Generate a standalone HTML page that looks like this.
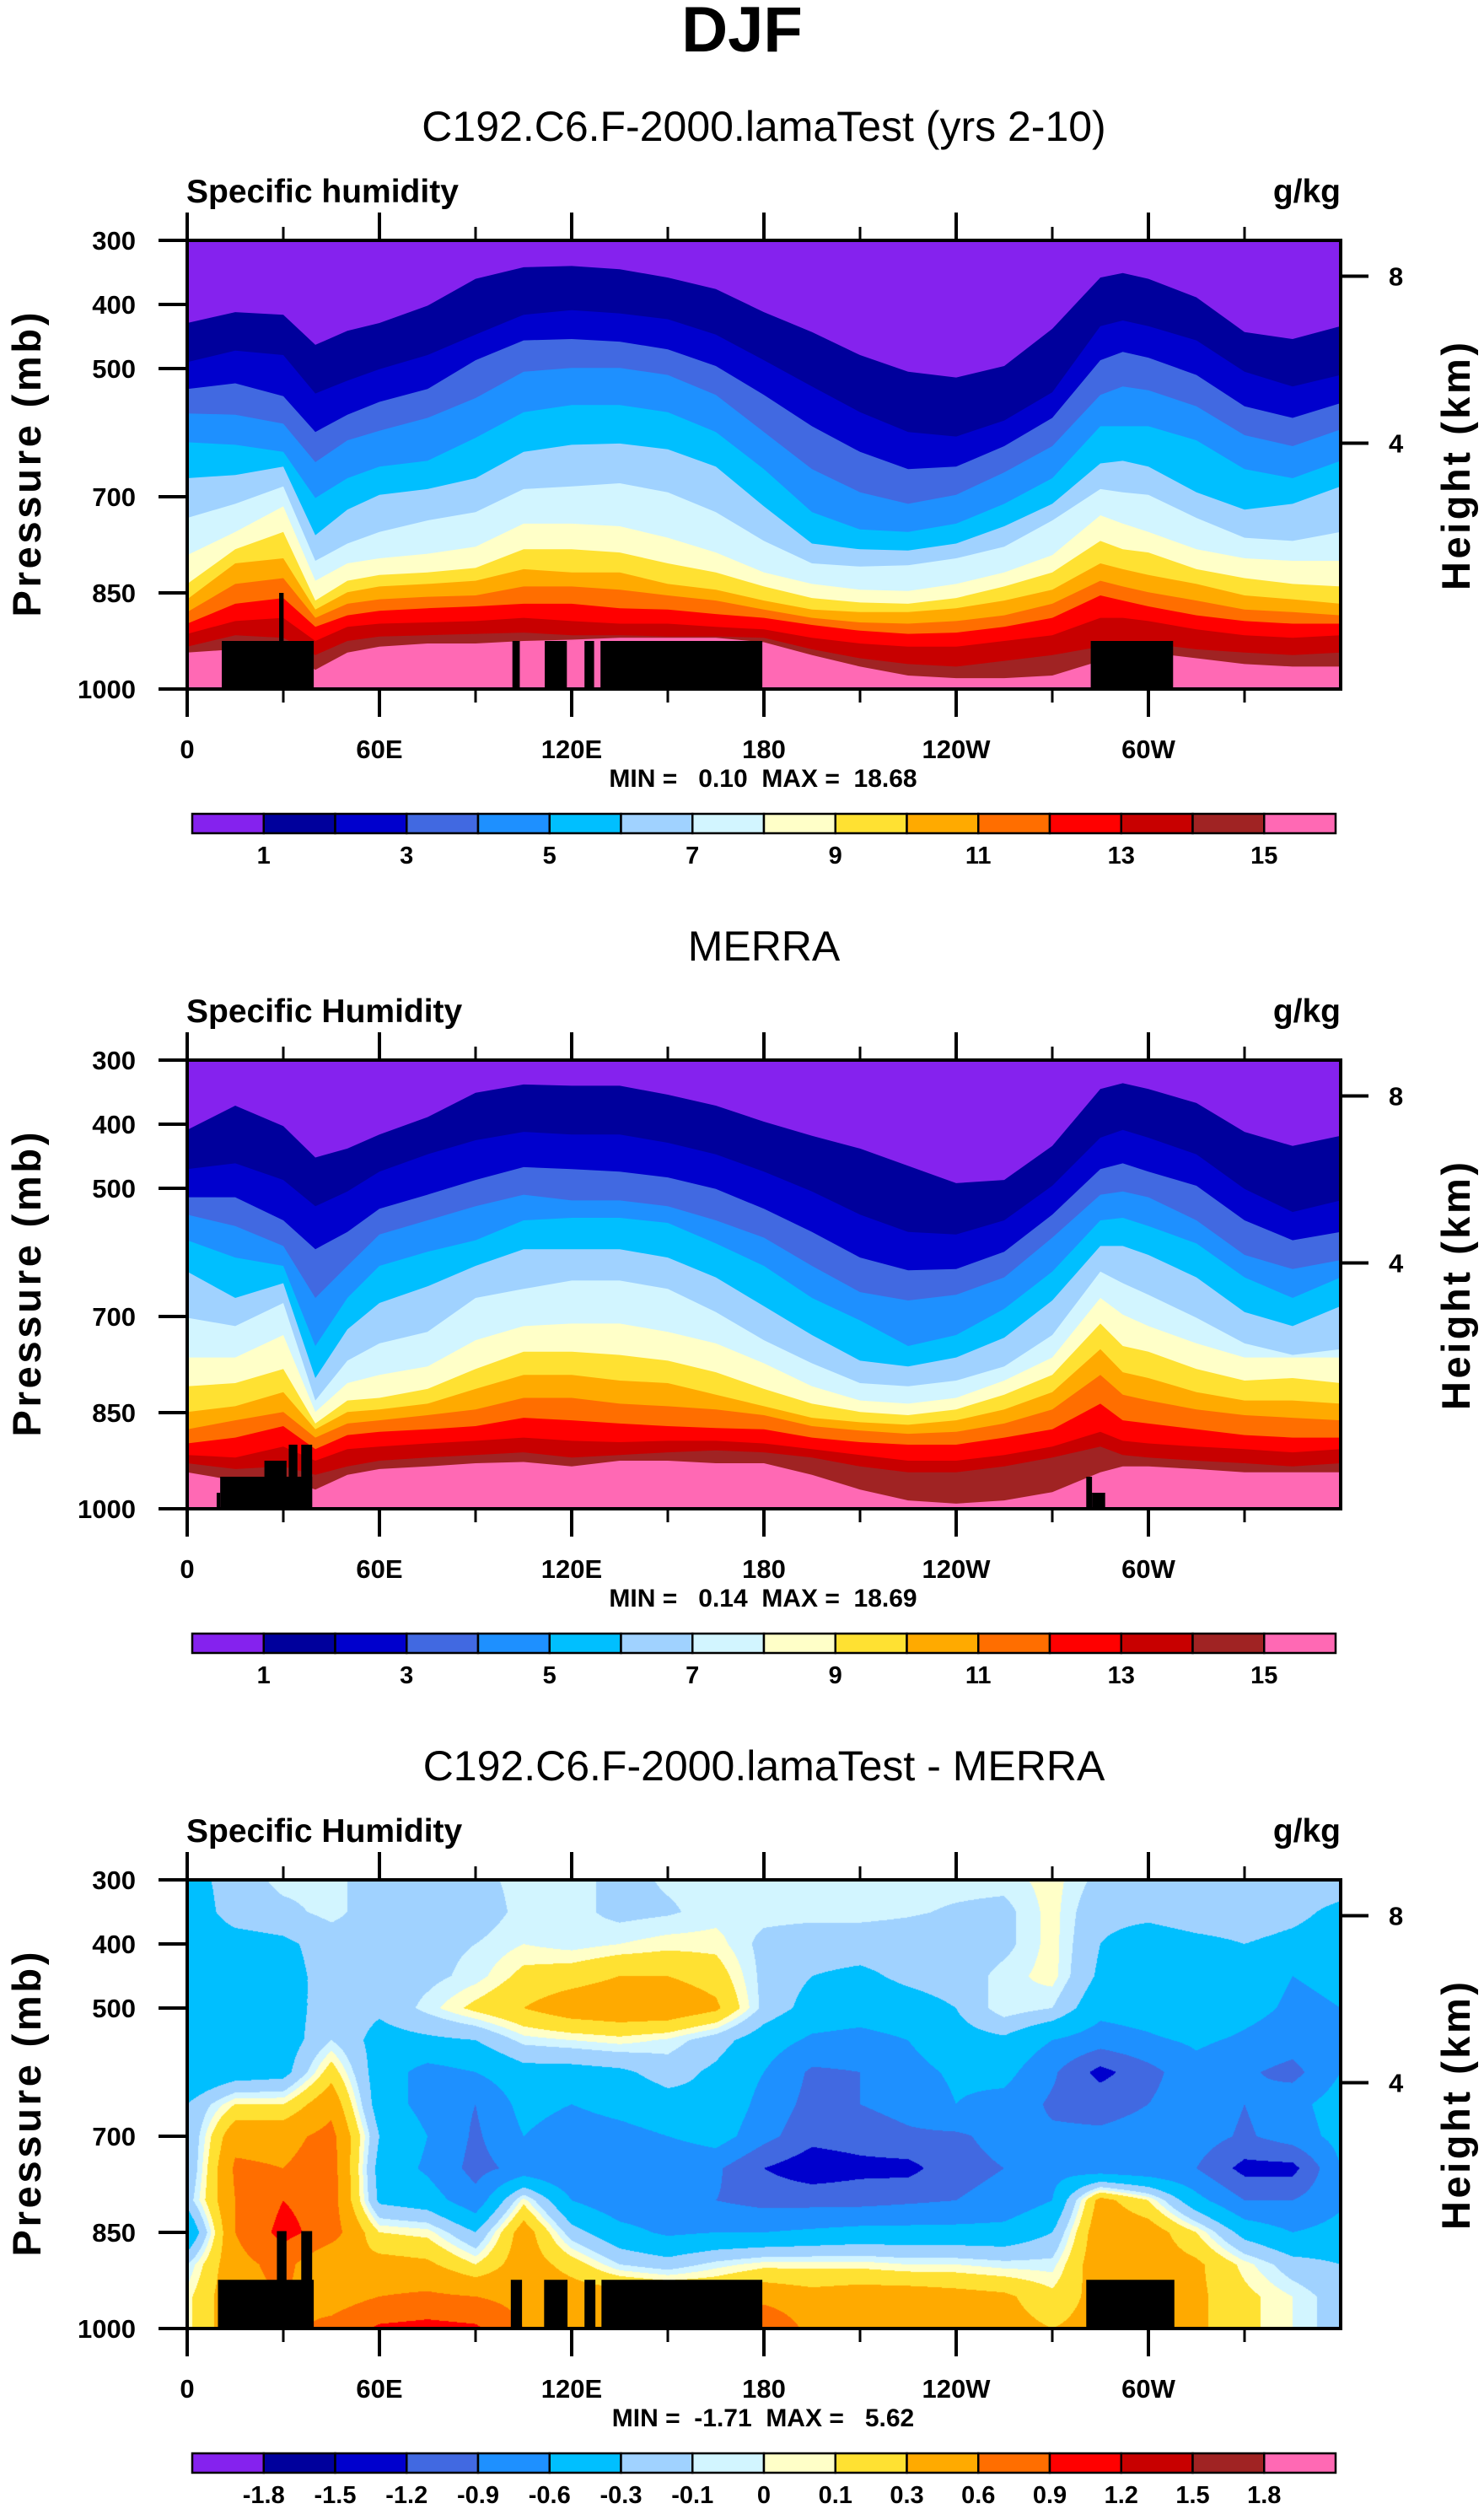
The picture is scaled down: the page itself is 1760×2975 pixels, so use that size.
<!DOCTYPE html>
<html><head><meta charset="utf-8">
<style>
body{margin:0;width:1760px;height:2975px;background:#fff;position:relative;overflow:hidden;font-family:"Liberation Sans",Arial,sans-serif}
canvas{position:absolute}
svg{position:absolute;left:0;top:0}
</style></head>
<body>
<canvas id="diffCanvas" width="1368" height="532" style="left:222px;top:2229px"></canvas>
<svg id="chart" width="1760" height="2975" xmlns="http://www.w3.org/2000/svg"></svg>
<script>
// ---------- data ----------
const lons = [0,15,30,40,50,60,75,90,105,120,135,150,165,180,195,210,225,240,255,270,285,292,300,315,330,345,360];
// model (panel 1): pressure (mb) where q crosses levels 1..15 g/kg
const model_l1 = [429,412,416,463,441,429,402,360,342,340,345,358,376,412,443,479,505,514,496,438,358,351,360,389,443,454,434];
const model_l2 = [490,472,479,539,519,501,479,447,416,409,414,423,447,487,528,568,599,606,581,537,434,425,434,456,505,528,510];
const model_l3 = [532,523,543,599,572,552,532,487,456,454,458,470,496,541,590,630,657,653,621,577,487,474,483,510,559,577,554];
const model_l4 = [570,572,586,646,612,597,577,546,505,499,499,510,541,599,657,693,711,697,662,621,541,528,534,559,604,621,595];
const model_l5 = [615,619,630,702,671,653,644,608,568,557,557,568,599,657,724,751,755,742,711,671,590,590,590,612,657,671,644];
const model_l6 = [671,666,653,760,720,697,688,671,630,619,617,626,653,715,773,782,784,773,746,711,648,644,653,693,720,711,684];
const model_l7 = [733,711,684,800,773,755,737,724,688,684,679,693,724,769,804,809,807,796,778,737,688,693,697,733,764,769,755];
const model_l8 = [791,755,715,831,804,796,789,778,742,742,746,764,787,818,836,845,847,836,818,791,729,742,755,782,796,800,800];
const model_l9 = [836,782,755,862,831,822,818,811,782,782,787,804,818,840,858,865,867,858,840,818,769,782,787,813,827,836,840];
const model_l10 = [860,804,796,876,849,840,836,831,813,818,818,836,845,862,876,880,880,874,862,845,804,813,822,836,854,860,867];
const model_l11 = [880,836,827,889,867,860,856,854,840,840,845,854,862,876,889,896,898,894,885,867,831,840,849,862,876,880,885];
const model_l12 = [898,867,858,903,885,878,874,871,867,867,874,876,883,889,900,909,914,912,903,889,854,862,871,885,894,898,898];
const model_l13 = [914,894,889,925,903,898,896,894,889,894,898,898,903,907,920,929,934,934,925,916,889,889,894,907,916,920,916];
const model_l14 = [934,916,920,947,925,918,916,914,912,916,916,918,918,920,938,952,961,965,956,947,934,925,929,938,943,947,943];
const model_l15 = [943,938,938,970,943,934,929,929,925,923,920,920,920,927,947,965,979,983,983,979,956,938,943,952,961,965,965];
// MERRA (panel 2)
const merra_l1 = [409,371,403,452,438,416,389,351,338,340,340,354,371,396,418,438,465,492,487,434,345,336,345,367,412,434,418];
const merra_l2 = [470,461,487,528,505,474,447,425,412,416,416,429,447,474,505,541,568,572,550,496,421,409,421,447,501,537,519];
const merra_l3 = [514,514,550,595,568,532,510,487,467,470,474,483,501,532,568,608,628,626,599,541,470,461,474,496,550,581,568];
const merra_l4 = [541,559,590,671,621,572,550,528,510,519,519,528,550,577,621,662,675,666,639,577,510,505,514,550,604,626,612];
const merra_l5 = [581,608,621,746,671,621,599,581,550,546,546,554,586,621,671,706,746,729,688,630,550,546,559,586,639,671,639];
const merra_l6 = [630,671,648,796,720,679,653,621,595,595,595,608,639,684,729,769,778,764,733,675,590,590,604,639,693,715,684];
const merra_l7 = [702,715,679,831,769,742,724,671,657,644,644,657,693,737,773,804,809,800,778,729,630,648,666,702,742,760,751];
const merra_l8 = [764,764,729,849,804,791,778,737,715,711,711,724,742,773,809,831,836,827,800,764,671,697,715,742,764,764,764];
const merra_l9 = [809,804,782,867,831,827,813,782,755,755,760,769,787,813,836,849,854,845,822,791,711,746,755,782,800,796,804];
const merra_l10 = [849,840,818,876,849,845,836,813,791,791,800,804,822,840,858,865,869,862,845,818,751,787,796,818,831,831,836];
const merra_l11 = [876,862,849,889,867,862,854,845,827,827,836,840,845,854,871,878,883,880,867,845,791,822,831,845,854,858,862];
const merra_l12 = [898,889,871,907,885,880,876,871,858,862,867,871,874,876,889,896,900,900,889,876,836,862,867,876,885,889,889];
const merra_l13 = [916,920,903,925,907,903,898,894,889,894,896,894,894,898,907,916,925,925,916,903,880,894,898,903,907,912,907];
const merra_l14 = [929,938,934,947,934,925,920,916,912,920,916,912,909,912,920,934,943,943,934,920,903,916,920,925,929,934,929];
const merra_l15 = [943,956,952,970,947,938,934,929,927,934,925,925,929,929,947,970,987,992,987,974,943,934,934,938,943,943,943];
// difference grid (panel 3): rows = pressure levels, cols = diffLons
const diffLons = [0,15,30,45,60,75,90,105,120,135,150,165,180,195,210,225,240,255,270,285,300,315,330,345,360];
const diffPres = [300,350,400,450,500,550,600,650,700,750,800,850,900,950,1000];
const d300 = [-0.4,-0.2,-0.05,-0.05,-0.2,-0.2,-0.15,-0.05,-0.05,-0.15,-0.08,-0.05,-0.05,-0.05,-0.05,-0.05,-0.05,-0.05,0.05,-0.15,-0.2,-0.2,-0.15,-0.2,-0.2];
const d350 = [-0.45,-0.2,-0.15,-0.05,-0.2,-0.2,-0.2,-0.05,-0.05,-0.15,-0.12,-0.05,-0.05,-0.05,-0.05,-0.08,-0.12,-0.15,0.05,-0.25,-0.25,-0.2,-0.2,-0.25,-0.35];
const d400 = [-0.45,-0.4,-0.35,-0.2,-0.2,-0.15,-0.1,0.0,-0.05,0.0,0.05,0.05,-0.15,-0.2,-0.2,-0.2,-0.2,-0.15,0.05,-0.3,-0.4,-0.35,-0.3,-0.35,-0.4];
const d450 = [-0.45,-0.45,-0.4,-0.2,-0.2,-0.15,-0.05,0.15,0.2,0.3,0.3,0.2,-0.15,-0.3,-0.35,-0.25,-0.2,-0.05,0.05,-0.35,-0.45,-0.4,-0.45,-0.6,-0.55];
const d500 = [-0.45,-0.4,-0.45,-0.15,-0.25,-0.05,0.15,0.3,0.45,0.5,0.5,0.35,-0.15,-0.4,-0.45,-0.4,-0.3,0.0,-0.1,-0.5,-0.45,-0.3,-0.5,-0.65,-0.6];
const d550 = [-0.45,-0.5,-0.45,-0.1,-0.4,-0.35,-0.3,-0.05,0.0,0.05,-0.02,-0.2,-0.45,-0.65,-0.7,-0.6,-0.4,-0.35,-0.6,-0.75,-0.65,-0.55,-0.65,-0.75,-0.6];
const d600 = [-0.6,-0.45,-0.4,0.2,-0.45,-0.7,-0.6,-0.4,-0.4,-0.35,-0.2,-0.35,-0.6,-0.95,-0.9,-0.7,-0.55,-0.5,-0.85,-1.3,-1.0,-0.7,-0.85,-1.0,-0.6];
const d650 = [-0.3,0.1,0.1,0.5,-0.45,-0.7,-0.9,-0.5,-0.6,-0.5,-0.4,-0.35,-0.7,-1.0,-0.9,-0.8,-0.6,-0.7,-0.95,-1.0,-0.9,-0.7,-0.9,-0.7,-0.45];
const d700 = [-0.3,0.5,0.5,0.7,-0.3,-0.6,-0.95,-0.6,-0.75,-0.7,-0.6,-0.45,-0.8,-1.1,-1.05,-0.95,-0.95,-0.8,-0.85,-0.85,-0.8,-0.75,-0.95,-0.75,-0.5];
const d750 = [-0.3,0.65,0.6,0.75,-0.4,-0.65,-1.0,-0.8,-0.9,-0.8,-0.9,-0.85,-1.2,-1.4,-1.3,-1.3,-1.0,-0.9,-0.7,-0.8,-0.85,-0.9,-1.3,-1.3,-0.6];
const d800 = [-0.2,0.6,0.9,0.75,-0.35,-0.45,-0.8,0.05,-0.6,-0.8,-0.8,-0.9,-1.0,-1.0,-1.0,-0.95,-0.9,-0.8,-0.6,0.4,0.1,-0.5,-0.9,-0.9,-0.65];
const d850 = [-0.6,0.6,1.0,0.75,0.1,0.05,-0.3,0.45,-0.2,-0.5,-0.65,-0.6,-0.6,-0.55,-0.5,-0.5,-0.5,-0.5,-0.3,0.5,0.45,0.1,-0.4,-0.6,-0.5];
const d900 = [-0.1,0.5,0.7,0.3,0.4,0.35,0.1,0.45,0.2,-0.1,-0.2,-0.05,0.05,0.05,0.05,0.0,0.0,-0.05,-0.05,0.5,0.45,0.35,0.05,-0.2,-0.3];
const d950 = [0.05,0.5,0.6,0.45,0.6,0.65,0.6,0.5,0.45,0.45,0.4,0.35,0.5,0.4,0.45,0.45,0.4,0.35,0.15,0.4,0.4,0.35,0.15,0.0,-0.2];
const d1000 = [0.05,0.5,0.5,0.7,0.95,1.0,0.95,0.6,0.6,0.6,0.6,0.6,0.9,0.5,0.45,0.45,0.45,0.4,0.3,0.4,0.45,0.35,0.15,0.0,-0.2];
// topography masks (black): start lon, end lon, top pressure
const topo1Start = [10.8,28.7,101.5,111.6,124,129,282];
const topo1End = [39.5,30.1,103.8,118.5,127,179.5,307.7];
const topo1Top = [925,850,925,925,925,925,925];
const topo2Start = [9.2,10.3,24.1,31.7,35.6,280.6,282.4];
const topo2End = [10.3,39,31,34.4,39,282.4,286.5];
const topo2Top = [975,950,925,900,900,950,975];
const topo3Start = [9.6,28,35.6,101,111.4,124,129.3,280.6];
const topo3End = [39.5,31,39,104.5,118.7,127.4,179.5,308.1];
const topo3Top = [924,848,848,924,924,924,924,924];
// axis ticks / labels
const presTicks = [300,400,500,700,850,1000];
const lonMajor = [0,60,120,180,240,300];
const lonMajorLabels = ['0','60E','120E','180','120W','60W'];
const lonMinor = [30,90,150,210,270,330];
const heightTicks = [8,4];
const qLevelLabels = ['1','3','5','7','9','11','13','15'];
const qLevelIdx = [1,3,5,7,9,11,13,15];
const diffLevels = [-1.8,-1.5,-1.2,-0.9,-0.6,-0.3,-0.1,0,0.1,0.3,0.6,0.9,1.2,1.5,1.8];
const diffLevelLabels = ['-1.8','-1.5','-1.2','-0.9','-0.6','-0.3','-0.1','0','0.1','0.3','0.6','0.9','1.2','1.5','1.8'];
const minMax1 = ['0.10','18.68'];
const minMax2 = ['0.14','18.69'];
const minMax3 = ['-1.71','5.62'];

const colors = ['#8522ee','#00009c','#0000cd','#4169e1','#1e90ff','#00bfff','#a0d2ff','#d2f5ff','#ffffc8','#ffe132','#ffaa00','#ff6e00','#ff0000','#c80000','#a02323','#ff69b4'];

// ---------- drawing ----------
const NS = 'http://www.w3.org/2000/svg';
const svg = document.getElementById('chart');
const X0 = 222, X1 = 1590, PH = 532;
function xs(lon){ return X0 + lon/360*(X1-X0); }
function ys(p, off){ return 285 + off + (p-300)/700*PH; }
function mk(tag, parent){ const e = document.createElementNS(NS, tag); parent.appendChild(e); return e; }
function txt(parent, s, x, y, size, weight, anchor){
  const t = mk('text', parent);
  t.setAttribute('x', x); t.setAttribute('y', y);
  t.setAttribute('font-size', size);
  t.setAttribute('font-weight', weight);
  t.setAttribute('text-anchor', anchor);
  t.setAttribute('font-family', '"Liberation Sans", Arial, sans-serif');
  t.style.whiteSpace = 'pre';
  t.textContent = s;
  return t;
}
function line(parent, x1, y1, x2, y2, w){
  const l = mk('line', parent);
  l.setAttribute('x1', x1); l.setAttribute('y1', y1); l.setAttribute('x2', x2); l.setAttribute('y2', y2);
  l.setAttribute('stroke', '#000'); l.setAttribute('stroke-width', w);
  return l;
}
function heightToP(km){ return 1013.25*Math.pow(1-2.25577e-5*km*1000, 5.25588); }

const title = txt(svg, 'DJF', 880, 61, 76, 'bold', 'middle');



function drawTopo(g, off, starts, ends, tops){
  for (let i=0;i<starts.length;i++){
    const r = mk('rect', g);
    
    
    r.setAttribute('x', xs(starts[i])); r.setAttribute('width', xs(ends[i])-xs(starts[i]));
    r.setAttribute('y', ys(tops[i], off)); r.setAttribute('height', ys(1000, off)-ys(tops[i], off));
    r.setAttribute('fill', '#000');
  }
}

function drawAxes(g, off, cfg){
  const bot = ys(1000, off), top = ys(300, off);
  const sub = txt(g, cfg.subtitle, 906, 167+off, 50, 'normal', 'middle');
  
  
  const lt = txt(g, cfg.left, 221, 240+off, 39, 'bold', 'start');
  
  
  const un = txt(g, 'g/kg', 1590, 240+off, 39, 'bold', 'end');
  
  
  const frame = mk('rect', g);
  
  
  frame.setAttribute('x', X0); frame.setAttribute('y', top); frame.setAttribute('width', X1-X0); frame.setAttribute('height', PH);
  frame.setAttribute('fill', 'none'); frame.setAttribute('stroke', '#000'); frame.setAttribute('stroke-width', 4);
  presTicks.forEach(p => {
    const tk = line(g, 188, ys(p, off), X0, ys(p, off), 4);
    
    
    const lb = txt(g, String(p), 161, ys(p, off)+11, 31, 'bold', 'end');
    
    
  });
  lonMajor.forEach((lon, i) => {
    const a = line(g, xs(lon), top-33, xs(lon), top, 4);
    
    
    const b = line(g, xs(lon), bot, xs(lon), bot+33, 4);
    
    
    const lb = txt(g, lonMajorLabels[i], xs(lon), 899+off, 31, 'bold', 'middle');
    
    
  });
  lonMinor.forEach(lon => {
    const a = line(g, xs(lon), top-16, xs(lon), top, 3);
    
    
    const b = line(g, xs(lon), bot, xs(lon), bot+16, 3);
    
    
  });
  heightTicks.forEach(km => {
    const y = ys(heightToP(km), off);
    const t = line(g, X1, y, X1+33, y, 4);
    
    
    const lb = txt(g, String(km), 1647, y+11, 31, 'bold', 'start');
    
    
  });
  const yt = txt(g, 'Pressure (mb)', 0, 0, 47, 'bold', 'middle');
  yt.setAttribute('transform', 'translate(48,' + (551+off) + ') rotate(-90)');
  yt.setAttribute('textLength', 361);
  
  
  const rt = txt(g, 'Height (km)', 0, 0, 47, 'bold', 'middle');
  rt.setAttribute('transform', 'translate(1743,' + (553+off) + ') rotate(-90)');
  rt.setAttribute('textLength', 294);
  
  
  const mm = txt(g, 'MIN = ' + cfg.mm[0].padStart(6) + '  MAX = ' + cfg.mm[1].padStart(6), 905, 933+off, 30, 'bold', 'middle');
  
  
  // colorbar
  const cb = mk('g', g);
  
  
  const cx0 = 228, cx1 = 1584, bw = (cx1-cx0)/16, cy = 965+off;
  colors.forEach((c, i) => {
    const r = mk('rect', cb);
    
    
    r.setAttribute('x', cx0+i*bw); r.setAttribute('y', cy); r.setAttribute('width', bw); r.setAttribute('height', 23);
    r.setAttribute('fill', c); r.setAttribute('stroke', '#000'); r.setAttribute('stroke-width', 2.5);
  });
  cfg.cbLabels.forEach((s, i) => {
    const lb = txt(cb, s, cx0 + cfg.cbIdx[i]*bw, 1024+off, 29, 'bold', 'middle');
    
    
  });
}

function drawContourPanel(off, levelCurves, cfg, topo){
  const g = mk('g', svg);
  
  
  const bg = mk('rect', g);
  
  
  bg.setAttribute('x', X0); bg.setAttribute('y', ys(300, off)); bg.setAttribute('width', X1-X0); bg.setAttribute('height', PH);
  bg.setAttribute('fill', colors[0]);
  levelCurves.forEach((curve, k) => {
    let pts = curve.map((p, i) => xs(lons[i]).toFixed(1) + ',' + ys(Math.min(p,1000), off).toFixed(1));
    pts.push(X1 + ',' + ys(1000, off), X0 + ',' + ys(1000, off));
    const poly = mk('polygon', g);
    
    
    poly.setAttribute('points', pts.join(' '));
    poly.setAttribute('fill', colors[k+1]);
  });
  drawTopo(g, off, topo[0], topo[1], topo[2]);
  drawAxes(g, off, cfg);
}

drawContourPanel(0,
  [model_l1,model_l2,model_l3,model_l4,model_l5,model_l6,model_l7,model_l8,model_l9,model_l10,model_l11,model_l12,model_l13,model_l14,model_l15],
  {name:'model-panel', subtitle:'C192.C6.F-2000.lamaTest (yrs 2-10)', left:'Specific humidity', mm:minMax1, cbLabels:qLevelLabels, cbIdx:qLevelIdx},
  [topo1Start, topo1End, topo1Top]);
drawContourPanel(972,
  [merra_l1,merra_l2,merra_l3,merra_l4,merra_l5,merra_l6,merra_l7,merra_l8,merra_l9,merra_l10,merra_l11,merra_l12,merra_l13,merra_l14,merra_l15],
  {name:'merra-panel', subtitle:'MERRA', left:'Specific Humidity', mm:minMax2, cbLabels:qLevelLabels, cbIdx:qLevelIdx},
  [topo2Start, topo2End, topo2Top]);

// difference panel: canvas field
(function(){
  const grid = [d300,d350,d400,d450,d500,d550,d600,d650,d700,d750,d800,d850,d900,d950,d1000];
  const cv = document.getElementById('diffCanvas');
  const ctx = cv.getContext('2d');
  const W = cv.width, H = cv.height;
  const img = ctx.createImageData(W, H);
  const rgb = colors.map(c => [parseInt(c.slice(1,3),16), parseInt(c.slice(3,5),16), parseInt(c.slice(5,7),16)]);
  const nC = diffLons.length, nR = diffPres.length;
  const lonStep = diffLons[1]-diffLons[0], pStep = diffPres[1]-diffPres[0];
  for (let py=0; py<H; py++){
    const p = 300 + (py+0.5)/H*700;
    let rf = (p - diffPres[0])/pStep; let r0 = Math.min(Math.floor(rf), nR-2); let fr = rf - r0;
    for (let px=0; px<W; px++){
      const lon = (px+0.5)/W*360;
      let cf = (lon - diffLons[0])/lonStep; let c0 = Math.min(Math.floor(cf), nC-2); let fc = cf - c0;
      const v = (1-fr)*((1-fc)*grid[r0][c0] + fc*grid[r0][c0+1]) + fr*((1-fc)*grid[r0+1][c0] + fc*grid[r0+1][c0+1]);
      let k = 0; while (k < diffLevels.length && v >= diffLevels[k]) k++;
      const o = (py*W+px)*4;
      img.data[o]=rgb[k][0]; img.data[o+1]=rgb[k][1]; img.data[o+2]=rgb[k][2]; img.data[o+3]=255;
    }
  }
  ctx.putImageData(img, 0, 0);
  const g = mk('g', svg);
  
  
  drawTopo(g, 1944, topo3Start, topo3End, topo3Top);
  drawAxes(g, 1944, {subtitle:'C192.C6.F-2000.lamaTest - MERRA', left:'Specific Humidity', mm:minMax3, cbLabels:diffLevelLabels, cbIdx:[1,2,3,4,5,6,7,8,9,10,11,12,13,14,15]});
})();
</script>
</body></html>
